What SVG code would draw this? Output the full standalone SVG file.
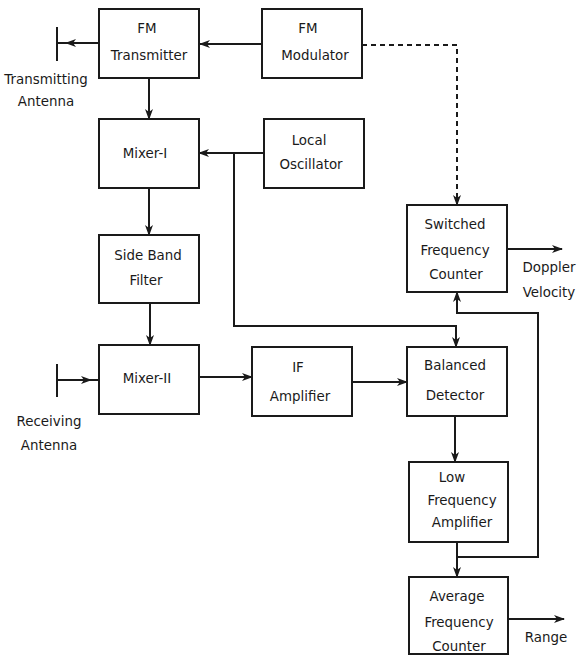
<svg xmlns="http://www.w3.org/2000/svg" width="580" height="671" viewBox="0 0 580 671">
<style>
  .box{fill:#fff;stroke:#1a1a1a;stroke-width:2}
  .t{font-family:"DejaVu Sans",Verdana,sans-serif;font-size:13.4px;fill:#1a1a1a;text-anchor:middle}
  .c{fill:none;stroke:#1a1a1a;stroke-width:2}
  .a{marker-end:url(#arr)}
  .d{stroke-dasharray:5 4}
</style>
<defs>
  <marker id="arr" markerUnits="userSpaceOnUse" markerWidth="11" markerHeight="10" viewBox="0 0 11 10" refX="10" refY="5" orient="auto">
    <path d="M0,1 L11,5 L0,9 L3,5 z" fill="#1a1a1a"/>
  </marker>
</defs>
<rect width="580" height="671" fill="#fff"/>
<g id="connectors">
  <path class="c a" d="M262,44 L200,44"/>
  <path class="c a" d="M99,43 L66,43"/>
  <path class="c" d="M67,43 L57,43"/>
  <path class="c" d="M57,27 L57,61"/>
  <path class="c a" d="M149,78 L149,119"/>
  <path class="c a" d="M264,153 L199,153"/>
  <path class="c a" d="M234,153 L234,326 L456,326 L456,347"/>
  <path class="c a" d="M149,188 L149,235"/>
  <path class="c a" d="M150,303 L150,345"/>
  <path class="c" d="M57,364 L57,397"/>
  <path class="c a" d="M57,380 L91,380"/>
  <path class="c" d="M90,380 L99,380"/>
  <path class="c a" d="M199,377 L252,377"/>
  <path class="c a" d="M352,382 L407,382"/>
  <path class="c a" d="M455,416 L455,462"/>
  <path class="c a" d="M457,542 L457,577"/>
  <path class="c a" d="M457,557 L538,557 L538,313 L457,313 L457,292"/>
  <path class="c d a" d="M362,45 L457,45 L457,205"/>
  <path class="c a" d="M507,249 L562,249"/>
  <path class="c a" d="M509,619 L564,619"/>
</g>
<g id="tx-antenna">
  <text class="t" x="46" y="84">Transmitting</text>
  <text class="t" x="46" y="106">Antenna</text>
</g>
<g id="rx-antenna">
  <text class="t" x="49" y="426">Receiving</text>
  <text class="t" x="49" y="450">Antenna</text>
</g>
<g id="fm-transmitter">
  <rect class="box" x="99" y="9" width="100" height="69"/>
  <text class="t" x="147" y="33">FM</text>
  <text class="t" x="149" y="60">Transmitter</text>
</g>
<g id="fm-modulator">
  <rect class="box" x="262" y="9" width="100" height="69"/>
  <text class="t" x="308" y="33">FM</text>
  <text class="t" x="315" y="60">Modulator</text>
</g>
<g id="mixer-1">
  <rect class="box" x="99" y="119" width="100" height="69"/>
  <text class="t" x="145" y="158">Mixer-I</text>
</g>
<g id="local-oscillator">
  <rect class="box" x="264" y="119" width="100" height="69"/>
  <text class="t" x="309" y="145">Local</text>
  <text class="t" x="311" y="169">Oscillator</text>
</g>
<g id="side-band-filter">
  <rect class="box" x="99" y="235" width="100" height="68"/>
  <text class="t" x="148" y="260">Side Band</text>
  <text class="t" x="146" y="285">Filter</text>
</g>
<g id="mixer-2">
  <rect class="box" x="99" y="345" width="100" height="69"/>
  <text class="t" x="147" y="383">Mixer-II</text>
</g>
<g id="if-amplifier">
  <rect class="box" x="252" y="347" width="100" height="69"/>
  <text class="t" x="298" y="372">IF</text>
  <text class="t" x="300" y="401">Amplifier</text>
</g>
<g id="switched-frequency-counter">
  <rect class="box" x="407" y="205" width="100" height="87"/>
  <text class="t" x="455" y="229">Switched</text>
  <text class="t" x="455" y="255">Frequency</text>
  <text class="t" x="456" y="279">Counter</text>
  <text class="t" x="549" y="272">Doppler</text>
  <text class="t" x="549" y="297">Velocity</text>
</g>
<g id="balanced-detector">
  <rect class="box" x="407" y="347" width="100" height="69"/>
  <text class="t" x="455" y="370">Balanced</text>
  <text class="t" x="455" y="400">Detector</text>
</g>
<g id="low-frequency-amplifier">
  <rect class="box" x="409" y="462" width="99" height="80"/>
  <text class="t" x="452" y="482">Low</text>
  <text class="t" x="462" y="505">Frequency</text>
  <text class="t" x="462" y="527">Amplifier</text>
</g>
<g id="average-frequency-counter">
  <rect class="box" x="409" y="577" width="99" height="77"/>
  <text class="t" x="457" y="601">Average</text>
  <text class="t" x="459" y="627">Frequency</text>
  <text class="t" x="459" y="651">Counter</text>
  <text class="t" x="546" y="642">Range</text>
</g>
</svg>
